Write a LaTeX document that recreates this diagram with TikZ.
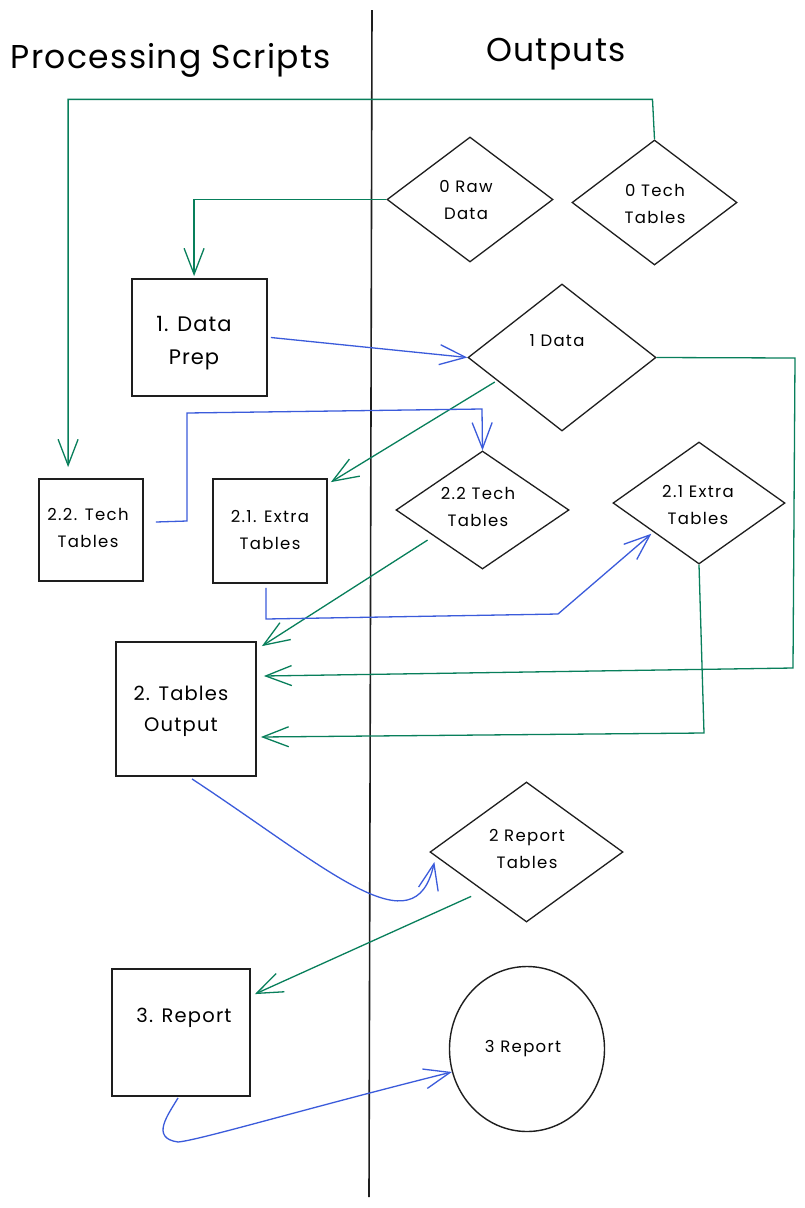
\documentclass[tikz,border=0pt]{standalone}
\usepackage{fontspec}
\setmainfont{Poppins}
\usetikzlibrary{arrows.meta,shapes.geometric,calc}
\definecolor{flowgreen}{HTML}{087F5B}
\definecolor{flowblue}{HTML}{3B5BDB}
\definecolor{ink}{HTML}{1E1E1E}

\begin{document}
\begin{tikzpicture}[x=1pt,y=-1pt,
  box/.style={draw=ink, line width=1.8pt, rectangle, inner sep=0pt},
  dia/.style={draw=ink, line width=1.3pt, diamond, inner sep=0pt},
  blob/.style={draw=ink, line width=1.4pt, ellipse, inner sep=0pt},
  lbl/.style={align=center, inner sep=0pt, text=black},
  fsmall/.style={font=\fontsize{16.5}{27}\selectfont\addfontfeature{LetterSpace=8}},
  fmid/.style={font=\fontsize{19.5}{31}\selectfont\addfontfeature{LetterSpace=6}},
  fbig/.style={font=\fontsize{21}{33}\selectfont\addfontfeature{LetterSpace=5}},
  title/.style={inner sep=0pt, font=\fontsize{33}{38}\selectfont\addfontfeature{LetterSpace=4}},
  tipbarb/.style={-{Straight Barb[length=26pt,width=20pt]}},
  garr/.style={draw=flowgreen, line width=1.3pt, tipbarb},
  barr/.style={draw=flowblue, line width=1.3pt, tipbarb}
]
\useasboundingbox[fill=white] (0,0) rectangle (805,1208);

% column divider and headings
\draw[ink, line width=1.6pt] (372,10) -- (369,1197);
\node[title] (hscripts) at (171,60) {Processing Scripts};
\node[title] (houts) at (556,54) {Outputs};

% outputs (diamonds and the final report)
\node[dia, minimum width=166pt, minimum height=125pt] (raw0) at (470,199.5) {};
\node[dia, minimum width=165pt, minimum height=125pt] (tech0) at (654.5,202.5) {};
\node[dia, minimum width=188pt, minimum height=147pt] (data1) at (562,357.5) {};
\node[dia, minimum width=173pt, minimum height=118pt] (tech22d) at (482.5,510) {};
\node[dia, minimum width=172pt, minimum height=122pt] (extra21d) at (699,503) {};
\node[dia, minimum width=193pt, minimum height=140pt] (rep2) at (526.5,852) {};
\node[blob, minimum width=155pt, minimum height=165pt] (circ) at (527,1049) {};

% processing scripts (boxes)
\node[box, minimum width=135pt, minimum height=117pt] (prep) at (199.5,337.5) {};
\node[box, minimum width=104pt, minimum height=102pt] (box22) at (91,530) {};
\node[box, minimum width=114pt, minimum height=104pt] (box21) at (270,531) {};
\node[box, minimum width=140pt, minimum height=134pt] (out2) at (186,709) {};
\node[box, minimum width=138pt, minimum height=127pt] (rep3) at (181,1032.5) {};

% labels
\node[lbl, fsmall] (raw0T) at (466,200) {0 Raw\\Data};
\node[lbl, fsmall] (tech0T) at (655,204) {0 Tech\\Tables};
\node[lbl, fsmall] (data1T) at (557,341) {1 Data};
\node[lbl, fsmall] (tech22dT) at (478,507) {2.2 Tech\\Tables};
\node[lbl, fsmall] (extra21dT) at (698,505) {2.1 Extra\\Tables};
\node[lbl, fsmall] (rep2T) at (527,849) {2 Report\\Tables};
\node[lbl, fsmall] (circT) at (523,1049) {3 Report};
\node[lbl, fbig] (prepT) at (194,343) {1. Data\\Prep};
\node[lbl, fsmall] (box22T) at (88,528) {2.2. Tech\\Tables};
\node[lbl, fsmall] (box21T) at (270,530) {2.1. Extra\\Tables};
\node[lbl, fmid] (out2T) at (181,711) {2. Tables\\Output};
\node[lbl, fmid] (rep3T) at (184,1018) {3. Report};

% green connectors
\draw[garr] (tech0.north) -- ++(-2,-40) -| ($(box22.north west)+(30,-11)$);
\draw[garr] (raw0.west) -| ($(prep.north west)+(63,-2)$);
\draw[garr] ($(data1.west)!0.29!(data1.south)+(0,3)$) -- ($(box21.north east)+(3,4)$);
\draw[garr] (data1.east) -- (795,358) -- (793,668) -- ($(out2.east)+(7,-33)$);
\draw[garr] (extra21d.south) -- (704,733) -- ($(out2.east)+(4,28)$);
\draw[garr] ($(tech22d.west)!0.37!(tech22d.south)+(0,8)$) -- ($(out2.north east)+(5,5)$);
\draw[garr] ($(rep2.west)!0.43!(rep2.south)+(0,14)$) -- ($(rep3.north east)+(4,26)$);

% blue connectors
\draw[barr] ($(prep.east)+(3,0)$) -- (data1.west);
\draw[barr] ($(box22.east)+(12,-8)$) -- (187,521) -- (187,413) -- (482,409) -- (tech22d.north);
\draw[barr] ($(box21.south)+(-4,4)$) -- (266,619) -- (558,614)
  -- ($(extra21d.west)!0.45!(extra21d.south)+(0,3)$);
\draw[barr] ($(out2.south)+(6,2)$) .. controls (330,870) and (415,950) .. ($(rep2.west)+(5,10)$);
\draw[barr] ($(rep3.south)+(-3,1)$) .. controls (168,1115) and (150,1138) .. (178,1142)
  .. controls (200,1140) and (300,1110) .. (circ.197);
\end{tikzpicture}
\end{document}
